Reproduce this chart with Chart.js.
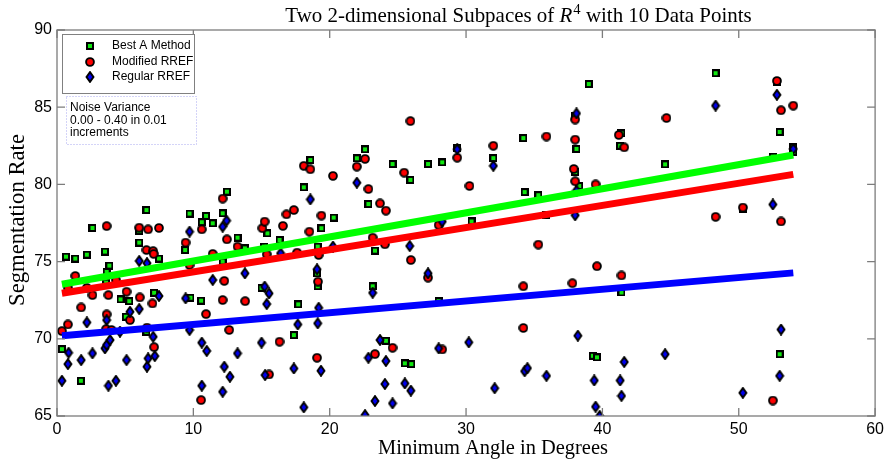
<!DOCTYPE html>
<html>
<head>
<meta charset="utf-8">
<script src="https://cdn.jsdelivr.net/npm/chart.js@4.4.1/dist/chart.umd.min.js"></script>
<style>
  html, body { margin: 0; padding: 0; background: #fff; }
  #wrap { width: 888px; height: 464px; position: relative; }
</style>
</head>
<body>
<div id="wrap"><canvas id="chart"></canvas></div>
<script>
// tick labels
const xTicks = [0, 10, 20, 30, 40, 50, 60];
const yTicks = [65, 70, 75, 80, 85, 90];

// Best A Method (green squares)
const bestAX = [0.36,0.66,1.34,1.75,2.19,2.6,3.52,3.6,3.64,3.84,4.66,5.05,5.3,6.03,6.03,6.56,6.56,7.12,7.48,9.4,9.72,9.79,10.57,10.62,10.93,11.42,12.15,12.15,12.46,13.24,13.78,15.0,15.18,15.43,16.32,17.37,17.69,18.1,18.58,19.07,19.12,19.12,19.39,20.29,21.99,22.59,22.84,23.15,23.32,24.12,24.61,25.51,25.92,25.99,27.21,27.99,28.25,29.35,30.4,32.0,34.2,34.3,35.3,35.9,38.0,38.1,38.0,38.3,39.0,39.3,39.6,41.4,41.3,41.4,44.6,48.3,50.3,52.5,52.8,53.0,53.0,54.0,54.0];
const bestAY = [69.33,75.32,75.2,67.28,75.45,77.18,75.65,73.64,74.35,74.74,72.55,71.43,72.44,76.98,76.23,78.34,70.46,72.98,75.2,75.75,78.11,72.66,72.47,77.55,77.96,77.48,78.13,75.0,79.53,76.55,75.86,73.3,75.97,76.83,76.4,70.24,72.23,79.81,81.58,74.24,73.4,75.97,77.16,77.85,81.69,82.27,78.73,73.4,75.71,69.87,81.32,68.41,80.29,68.36,81.32,72.44,81.43,82.38,77.6,81.7,83.0,79.5,79.3,78.0,84.4,82.3,80.8,79.9,86.5,68.9,68.8,83.3,82.5,73.0,81.3,87.2,78.4,81.8,86.6,83.4,69.0,82.4,82.1];

// Modified RREF (red circles)
const modX = [0.36,0.8,0.8,1.34,1.77,2.19,2.6,3.6,3.64,3.64,3.77,4.0,4.32,5.1,5.35,6.03,6.07,6.56,6.6,6.68,7.0,7.05,7.09,7.12,7.48,9.43,9.72,10.57,10.62,10.93,11.42,12.15,12.15,12.27,12.46,12.63,13.24,13.8,15.06,15.23,15.38,15.55,16.32,16.57,16.83,17.37,17.61,18.1,18.51,18.58,19.07,19.14,19.19,19.39,20.24,21.99,22.59,22.84,23.15,23.32,23.69,24.05,24.12,24.61,25.46,25.92,25.95,27.21,27.99,28.25,29.35,30.25,32.0,34.2,34.2,35.3,35.9,38.0,38.0,37.9,38.0,37.8,39.5,39.6,41.2,41.6,41.4,44.7,48.3,50.3,52.5,52.8,53.1,53.1,54.0];
const modY = [70.5,70.93,73.3,74.07,72.03,73.3,72.83,70.63,71.58,77.3,72.83,70.57,73.81,73.05,71.21,77.2,72.68,75.75,70.72,77.09,72.29,75.68,75.5,69.46,77.18,76.23,74.78,66.03,77.09,71.6,75.5,79.08,72.51,73.75,76.44,70.57,75.97,72.44,77.16,77.59,75.47,67.69,69.81,77.31,78.06,78.34,75.58,81.2,76.94,80.98,68.77,73.7,75.43,77.98,80.55,81.15,81.65,79.7,76.55,69.01,78.77,76.12,78.3,69.42,80.76,84.1,75.1,73.96,77.37,69.31,81.73,79.9,82.5,73.4,70.7,76.1,83.1,84.2,82.9,81.0,80.2,73.6,80.0,74.7,83.2,82.4,74.1,84.3,77.9,78.5,66.0,86.7,84.8,77.6,85.1];

// Regular RREF (blue diamonds)
const regX = [0.36,0.8,0.85,1.77,2.19,2.6,3.52,3.64,3.64,3.77,3.89,4.32,4.62,5.1,5.35,6.03,6.03,6.6,6.6,6.68,7.05,7.17,7.48,9.43,9.72,9.72,10.62,10.62,10.98,11.42,12.15,12.15,12.27,12.44,12.68,13.24,13.78,15.0,15.23,15.26,15.38,15.55,16.4,17.37,17.66,18.1,18.58,19.07,19.12,19.19,19.36,20.24,21.99,22.59,22.84,23.15,23.32,23.69,24.05,24.12,24.61,25.51,25.87,25.95,27.21,27.99,28.25,29.35,30.2,32.0,32.1,34.3,34.5,35.9,38.1,38.1,38.0,38.2,39.4,39.5,39.8,41.3,41.4,41.6,44.6,48.3,50.3,52.5,52.8,53.1,53.0,54.0];
const regY = [67.28,68.36,69.1,68.62,71.06,69.06,69.38,69.6,71.21,66.96,69.92,67.28,70.46,68.62,71.75,71.93,75.04,74.9,68.19,68.73,70.13,68.88,72.77,72.62,70.57,76.94,69.75,66.96,69.21,73.81,77.26,66.57,68.19,77.65,67.54,69.06,74.24,69.75,73.38,67.65,72.25,72.94,75.54,68.08,70.93,65.56,79.03,74.5,71.0,72.01,67.93,75.97,80.11,65.06,68.77,72.98,65.97,69.92,67.07,68.56,65.82,67.11,76.01,66.64,74.24,69.38,77.59,82.27,69.77,81.2,66.8,67.9,68.1,67.6,84.6,79.6,78.0,70.2,67.3,65.6,65.0,67.3,66.3,68.5,69.0,85.1,66.5,78.7,85.8,70.6,67.6,82.3];

// fitted lines, start and end
const fitX = [0.36, 54];
const bestAFit = [73.53, 81.9];
const modFit = [72.95, 80.65];
const regFit = [70.2, 74.27];

const labels = ['Best A Method', 'Modified RREF', 'Regular RREF'];
const noteLines = ['Noise Variance', '0.00 - 0.40 in 0.01', 'increments'];

function pts(xs, ys) {
  return xs.map((x, i) => ({ x: x, y: ys[i] }));
}

// marker images, black edged like the matlab ones
function marker(kind) {
  const c = document.createElement('canvas');
  const g = c.getContext('2d');
  g.strokeStyle = '#000';
  if (kind === 'square') {
    c.width = 8; c.height = 8;
    g.fillStyle = '#000'; g.fillRect(0, 0, 8, 8);
    g.fillStyle = '#10e810'; g.fillRect(2, 2, 4, 4);
  } else if (kind === 'circle') {
    c.width = 10; c.height = 10;
    g.beginPath(); g.arc(5, 5, 3.9, 0, Math.PI * 2);
    g.fillStyle = '#ff0000'; g.fill();
    g.lineWidth = 1.9; g.stroke();
  } else {
    c.width = 10; c.height = 12;
    g.beginPath();
    g.moveTo(5, 1.1); g.lineTo(8.5, 6); g.lineTo(5, 10.9); g.lineTo(1.5, 6);
    g.closePath();
    g.fillStyle = '#0000f0'; g.fill();
    g.lineWidth = 1.9; g.stroke();
  }
  return c;
}
const markers = [marker('square'), marker('circle'), marker('diamond')];

const sans = '"Liberation Sans", Arial, sans-serif';
const serif = '"Liberation Serif", "Times New Roman", serif';

// text drawn at a fixed width
function fitFont(ctx, text, width, base) {
  ctx.font = base + 'px ' + serif;
  return base * width / ctx.measureText(text).width;
}

const decor = {
  id: 'decor',
  afterDraw(chart) {
    const ctx = chart.ctx;
    const a = chart.chartArea;
    const xs = chart.scales.x, ys = chart.scales.y;
    ctx.save();

    // box and inward ticks
    ctx.strokeStyle = '#7c7c7c';
    ctx.lineWidth = 1.3;
    ctx.strokeRect(a.left, a.top, a.right - a.left, a.bottom - a.top);
    ctx.beginPath();
    xTicks.forEach(v => {
      const p = xs.getPixelForValue(v);
      ctx.moveTo(p, a.bottom); ctx.lineTo(p, a.bottom - 8);
      ctx.moveTo(p, a.top); ctx.lineTo(p, a.top + 8);
    });
    yTicks.forEach(v => {
      const p = ys.getPixelForValue(v);
      ctx.moveTo(a.left, p); ctx.lineTo(a.left + 8, p);
      ctx.moveTo(a.right, p); ctx.lineTo(a.right - 8, p);
    });
    ctx.stroke();

    // legend
    ctx.fillStyle = '#fff';
    ctx.fillRect(62, 34, 132, 59);
    ctx.strokeStyle = '#808080';
    ctx.lineWidth = 1;
    ctx.strokeRect(62.5, 34.5, 132, 59);
    ctx.fillStyle = '#000';
    ctx.font = '12px ' + sans;
    ctx.textBaseline = 'middle';
    ctx.textAlign = 'left';
    labels.forEach((t, i) => {
      const y = 46 + i * 15.5;
      const m = markers[i];
      ctx.drawImage(m, Math.round(90 - m.width / 2), Math.round(y - m.height / 2));
      ctx.fillText(t, 112, y);
    });

    // noise note
    ctx.strokeStyle = '#a8a8f0';
    ctx.setLineDash([1, 2]);
    ctx.strokeRect(66.5, 96.5, 130, 48);
    ctx.setLineDash([]);
    noteLines.forEach((t, i) => ctx.fillText(t, 70, 108 + i * 12.3));

    // title with italic R and superscript 4
    const p1 = 'Two 2-dimensional Subpaces of ', p3 = ' with 10 Data Points';
    let fs = fitFont(ctx, p1 + 'R4' + p3, 470, 17);
    ctx.textBaseline = 'alphabetic';
    ctx.font = fs + 'px ' + serif;
    const w1 = ctx.measureText(p1).width;
    const w3 = ctx.measureText(p3).width;
    ctx.font = 'italic ' + fs + 'px ' + serif;
    const w2 = ctx.measureText('R').width;
    ctx.font = (fs * 0.7) + 'px ' + serif;
    const w4 = ctx.measureText('4').width;
    let x = 518 - (w1 + w2 + w4 + w3) / 2;
    const by = 22;
    ctx.font = fs + 'px ' + serif;
    ctx.fillText(p1, x, by); x += w1;
    ctx.font = 'italic ' + fs + 'px ' + serif;
    ctx.fillText('R', x, by); x += w2 + 1;
    ctx.font = (fs * 0.7) + 'px ' + serif;
    ctx.fillText('4', x, by - fs * 0.4); x += w4;
    ctx.font = fs + 'px ' + serif;
    ctx.fillText(p3, x, by);

    // axis titles
    ctx.textAlign = 'center';
    ctx.textBaseline = 'middle';
    const xl = 'Minimum Angle in Degrees';
    ctx.font = fitFont(ctx, xl, 230, 17) + 'px ' + serif;
    ctx.fillText(xl, 493, 449);
    const yl = 'Segmentation Rate';
    ctx.font = fitFont(ctx, yl, 172, 17) + 'px ' + serif;
    ctx.translate(18, 220);
    ctx.rotate(-Math.PI / 2);
    ctx.fillText(yl, 0, 0);
    ctx.restore();
  }
};

function fitLine(ys, color) {
  return {
    data: pts(fitX, ys),
    showLine: true,
    borderColor: color,
    borderWidth: 7,
    borderCapStyle: 'butt',
    pointRadius: 0,
    order: 0
  };
}

new Chart(document.getElementById('chart'), {
  type: 'scatter',
  data: {
    datasets: [
      fitLine(bestAFit, '#00ff00'),
      fitLine(modFit, '#ff0000'),
      fitLine(regFit, '#0000ff'),
      { label: labels[2], data: pts(regX, regY), pointStyle: markers[2], order: 1 },
      { label: labels[1], data: pts(modX, modY), pointStyle: markers[1], order: 2 },
      { label: labels[0], data: pts(bestAX, bestAY), pointStyle: markers[0], order: 3 }
    ]
  },
  options: {
    responsive: true,
    maintainAspectRatio: false,
    animation: false,
    layout: { padding: { top: 30, right: 8, left: 0, bottom: 0 } },
    plugins: { legend: { display: false }, tooltip: { enabled: false } },
    scales: {
      x: {
        type: 'linear', min: 0, max: 60,
        afterBuildTicks: s => { s.ticks = xTicks.map(v => ({ value: v })); },
        afterFit: s => { s.height = 48; },
        grid: { display: false, drawTicks: false },
        border: { display: false },
        ticks: { color: '#000', padding: 4, maxRotation: 0, font: { family: sans, size: 16 } }
      },
      y: {
        type: 'linear', min: 65, max: 90,
        afterBuildTicks: s => { s.ticks = yTicks.map(v => ({ value: v })); },
        afterFit: s => { s.width = 57; },
        grid: { display: false, drawTicks: false },
        border: { display: false },
        ticks: { color: '#000', padding: 5, font: { family: sans, size: 16 } }
      }
    }
  },
  plugins: [decor]
});
</script>
</body>
</html>
